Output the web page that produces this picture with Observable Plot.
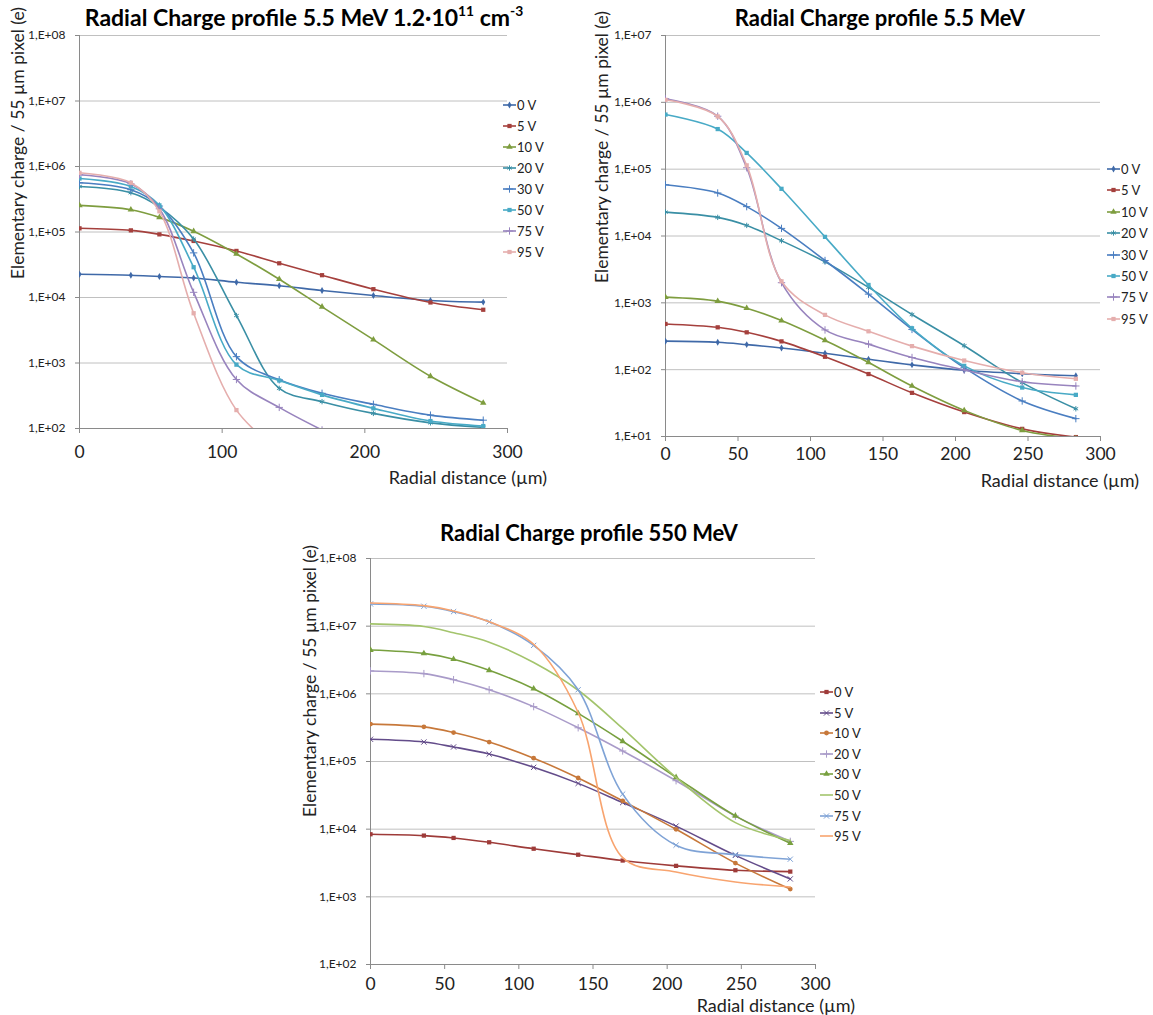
<!DOCTYPE html>
<html><head><meta charset="utf-8">
<script src="https://cdn.jsdelivr.net/npm/d3@7"></script>
<script src="https://cdn.jsdelivr.net/npm/@observablehq/plot@0.6"></script>
<style>
body{margin:0;background:#fff;font-family:Lato,"Open Sans",sans-serif;color:#111;}
#root{position:relative;width:1153px;height:1015px;overflow:hidden;background:#fff;}
.abs{position:absolute;white-space:nowrap;}
.title{font-weight:bold;transform:translate(-50%,-50%);color:#000;}
.title sup{font-size:0.6em;vertical-align:0.7em;line-height:0;}
.ylab{transform:translate(-50%,-50%) rotate(-90deg);font-size:17.5px;color:#222;}
.xlab{transform:translate(-100%,-50%);font-size:18px;color:#222;}
.leg-item{position:absolute;left:0;display:flex;align-items:center;font-size:13px;height:16px;color:#222;}
.leg-item span{margin-left:1px;}
</style></head>
<body><div id="root"></div>
<script>
// ---------- data ----------
const radius = [0, 36, 56, 80, 110, 140, 170, 206, 246, 283];
const voltages = ["0 V", "5 V", "10 V", "20 V", "30 V", "50 V", "75 V", "95 V"];

const xTicksA = [0, 100, 200, 300];
const xTicksB = [0, 50, 100, 150, 200, 250, 300];
const xTicksC = [0, 50, 100, 150, 200, 250, 300];
const yTicksA = [1e2, 1e3, 1e4, 1e5, 1e6, 1e7, 1e8];
const yTicksB = [1e1, 1e2, 1e3, 1e4, 1e5, 1e6, 1e7];
const yTicksC = [1e2, 1e3, 1e4, 1e5, 1e6, 1e7, 1e8];

// Panel A: 5.5 MeV 1.2e11 cm-3
const a0V  = [22600, 21900, 20900, 19900, 17100, 15100, 12800, 10700, 9000, 8500];
const a5V  = [113800, 105900, 92000, 73000, 51400, 33300, 21900, 13400, 8400, 6500];
const a10V = [254700, 218800, 167200, 102400, 46200, 19000, 7200, 2270, 627, 246];
const a20V = [495000, 398000, 240000, 78000, 5300, 410, 257, 170, 122, 104];
const a30V = [564000, 442000, 249000, 48000, 1250, 555, 345, 234, 160, 134];
const a50V = [656000, 495000, 255000, 29000, 943, 541, 326, 203, 130, 109];
const a75V = [747000, 544000, 226000, 12000, 560, 210, 95];
const a95V = [801000, 564000, 207000, 5750, 191, 45];

// Panel B: 5.5 MeV
const b0V  = [267, 257, 237, 211, 176, 143, 118, 98, 87, 81];
const b5V  = [483, 430, 362, 265, 156, 86, 45, 23.2, 13, 9.8];
const b10V = [1217, 1060, 832, 542, 275, 128, 57, 24.6, 12.3, 9.3];
const b20V = [22800, 19000, 14400, 8500, 4100, 1700, 668, 228, 64, 26];
const b30V = [58300, 44000, 27500, 13000, 4300, 1350, 400, 107, 34, 18.5];
const b50V = [656000, 398000, 175000, 50800, 9700, 1850, 416, 114, 54, 42];
const b75V = [1130000, 620000, 105000, 2000, 393, 241, 152, 99, 66, 57];
const b95V = [1090000, 615000, 114000, 2100, 660, 375, 225, 137, 90, 73];

// Panel C: 550 MeV
const c0V  = [8410, 8040, 7420, 6400, 5140, 4190, 3440, 2870, 2470, 2360];
const c5V  = [213000, 194000, 164000, 129000, 82000, 47500, 24700, 11100, 4100, 1840];
const c10V = [357000, 325000, 268000, 194000, 112000, 57000, 26200, 9950, 3150, 1300];
const c20V = [2180000, 1990000, 1620000, 1150000, 647000, 315000, 143000, 52000, 15600, 6600];
const c30V = [4440000, 3960000, 3250000, 2230000, 1190000, 514000, 199000, 58300, 15700, 6200];
const c50V = [10800000, 9900000, 8000000, 5800000, 2900000, 1130000, 308000, 58300, 12500, 6800];
const c75V = [21300000, 19700000, 16400000, 11600000, 5200000, 1150000, 33000, 5800, 4200, 3600];
const c95V = [22000000, 20100000, 16800000, 11600000, 5400000, 530000, 3800, 2330, 1660, 1400];

// ---------- styles ----------
const colorsAB = ["#3f69a8", "#a5403d", "#7e9d3f", "#3a8fa5", "#4a7ec1", "#48aac6", "#9884be", "#e5aead"];
const symbolsAB = ["diamond", "square", "triangle", "asterisk", "plus", "square", "plus", "square"];
const colorsC = ["#9e3b39", "#634c8a", "#c7783a", "#a99bc9", "#78a03f", "#a3c46c", "#7fa3d6", "#f8a46f"];
const symbolsC = ["square", "times", "circle", "plus", "triangle", null, "times", null];

const strokeSymbols = new Set(["asterisk", "plus", "times"]);
const d3sym = {diamond: d3.symbolDiamond, square: d3.symbolSquare, triangle: d3.symbolTriangle,
  asterisk: d3.symbolAsterisk, plus: d3.symbolPlus, times: d3.symbolTimes, circle: d3.symbolCircle};
const symR = s => s === "diamond" ? 2.1 : (strokeSymbols.has(s) ? 2.5 : 2.4);

const fmtE = d => "1,E+" + String(Math.round(Math.log10(d))).padStart(2, "0");
const yLabel = "Elementary charge / 55 µm pixel (e)";
const xLabel = "Radial distance (µm)";

const panels = [
  {series: [a0V, a5V, a10V, a20V, a30V, a50V, a75V, a95V], colors: colorsAB, symbols: symbolsAB,
   xTicks: xTicksA, yTicks: yTicksA, yDomain: [1e2, 1e8],
   left: 0, top: 25, width: 560, height: 443, mL: 79, mR: 53, mT: 10, mB: 40, tickPad: 12,
   title: "Radial Charge profile 5.5 MeV 1.2·10<sup>11</sup> cm<sup>-3</sup>", tx: 304, ty: 17, tfs: 23,
   ylx: 17, yly: 143, xlx: 547, xly: 477, legX: 503, legY: 105, legDy: 21},
  {series: [b0V, b5V, b10V, b20V, b30V, b50V, b75V, b95V], colors: colorsAB, symbols: symbolsAB,
   xTicks: xTicksB, yTicks: yTicksB, yDomain: [1e1, 1e7],
   left: 580, top: 25, width: 573, height: 451, mL: 85, mR: 53, mT: 10, mB: 40, tickPad: 6,
   title: "Radial Charge profile 5.5 MeV", tx: 880, ty: 17, tfs: 22,
   ylx: 601, yly: 147, xlx: 1139, xly: 480, legX: 1107, legY: 169, legDy: 21.4},
  {series: [c0V, c5V, c10V, c20V, c30V, c50V, c75V, c95V], colors: colorsC, symbols: symbolsC,
   xTicks: xTicksC, yTicks: yTicksC, yDomain: [1e2, 1e8],
   left: 280, top: 548, width: 560, height: 456, mL: 90, mR: 25, mT: 10, mB: 40, tickPad: 8,
   title: "Radial Charge profile 550 MeV", tx: 589, ty: 532, tfs: 22,
   ylx: 309, yly: 681, xlx: 855, xly: 1005, legX: 820, legY: 692, legDy: 20.6}
];

const root = document.getElementById("root");

panels.forEach(cfg => {
  const marks = [
    Plot.gridY(cfg.yTicks, {stroke: "#c0c0c0", strokeOpacity: 1}),
    Plot.ruleX([0], {stroke: "#8a8a8a"}),
    Plot.ruleY([cfg.yDomain[0]], {stroke: "#8a8a8a"}),
    Plot.axisY(cfg.yTicks, {tickFormat: fmtE, tickSize: 4, tickPadding: 10, fontSize: 12,
      stroke: "#8a8a8a", fill: "#222", label: null}),
    Plot.axisX(cfg.xTicks, {tickSize: 5, tickPadding: cfg.tickPad, fontSize: 17.5,
      stroke: "#8a8a8a", fill: "#222", label: null})
  ];
  cfg.series.forEach((vals, i) => {
    const rows = vals.map((v, j) => ({r: radius[j], v}));
    const col = cfg.colors[i];
    marks.push(Plot.line(rows, {x: "r", y: "v", stroke: col, strokeWidth: 1.6,
      curve: "catmull-rom", clip: true}));
    const s = cfg.symbols[i];
    if (s) {
      const isStroke = strokeSymbols.has(s);
      marks.push(Plot.dot(rows, {x: "r", y: "v", symbol: s, r: symR(s),
        fill: isStroke ? "none" : col, stroke: isStroke ? col : "none", strokeWidth: 1, clip: true}));
    }
  });
  const svg = Plot.plot({
    width: cfg.width, height: cfg.height,
    marginLeft: cfg.mL, marginRight: cfg.mR, marginTop: cfg.mT, marginBottom: cfg.mB,
    x: {domain: [0, 300]},
    y: {type: "log", domain: cfg.yDomain},
    style: {fontFamily: "Lato, 'Open Sans', sans-serif", background: "transparent", color: "#222"},
    marks
  });
  svg.style.position = "absolute";
  svg.style.left = cfg.left + "px";
  svg.style.top = cfg.top + "px";
  root.appendChild(svg);

  const r = d3.select(root);
  r.append("div").attr("class", "abs title")
    .style("left", cfg.tx + "px").style("top", cfg.ty + "px").style("font-size", cfg.tfs + "px")
    .html(cfg.title);
  r.append("div").attr("class", "abs ylab")
    .style("left", cfg.ylx + "px").style("top", cfg.yly + "px").text(yLabel);
  r.append("div").attr("class", "abs xlab")
    .style("left", cfg.xlx + "px").style("top", cfg.xly + "px").text(xLabel);

  const leg = r.append("div").attr("class", "abs").style("left", cfg.legX + "px").style("top", cfg.legY + "px");
  voltages.forEach((name, i) => {
    const item = leg.append("div").attr("class", "leg-item").style("top", (i * cfg.legDy - 8) + "px");
    const sv = item.append("svg").attr("width", 13).attr("height", 10);
    const col = cfg.colors[i];
    sv.append("line").attr("x1", 0).attr("x2", 13).attr("y1", 5).attr("y2", 5)
      .attr("stroke", col).attr("stroke-width", 1.6);
    const s = cfg.symbols[i];
    if (s) {
      const isStroke = strokeSymbols.has(s);
      const rr = symR(s);
      sv.append("path").attr("d", d3.symbol(d3sym[s], Math.PI * rr * rr)())
        .attr("transform", "translate(6.5,5)")
        .attr("fill", isStroke ? "none" : col).attr("stroke", isStroke ? col : "none");
    }
    item.append("span").text(name);
  });
});
</script>
</body></html>
